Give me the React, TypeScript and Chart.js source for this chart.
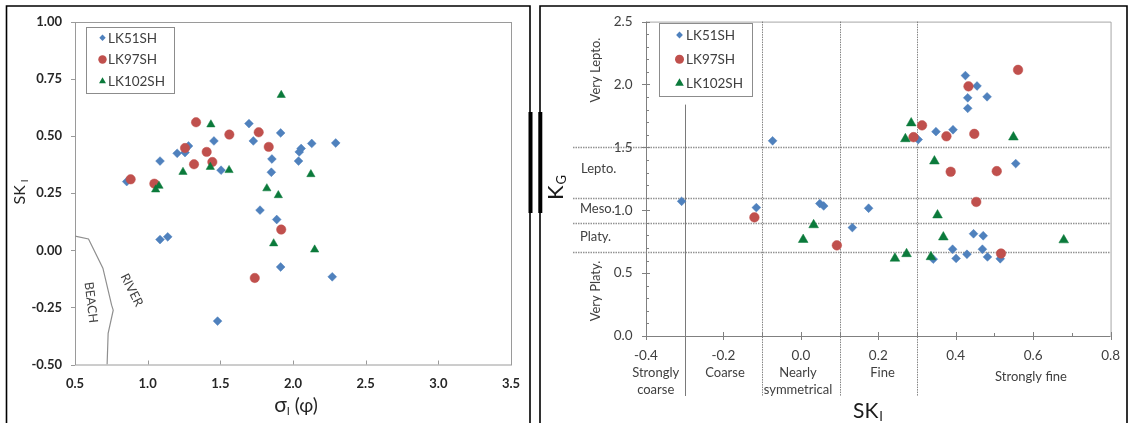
import React, { useEffect, useRef } from 'react';
import { Chart, registerables } from 'chart.js';
Chart.register(...registerables);

// ---------- Left chart: sorting (σI) vs skewness (SKI) ----------
const leftSeriesNames = ['LK51SH', 'LK97SH', 'LK102SH'];
const lk51SortX = [0.856, 1.085, 1.085, 1.138, 1.203, 1.257, 1.281, 1.456, 1.505, 1.697, 1.727, 1.915, 1.855, 1.851, 1.773, 1.888, 1.915, 2.038, 2.043, 2.056, 2.129, 2.294, 2.270, 1.481];
const lk51SkewY = [0.301, 0.391, 0.047, 0.059, 0.425, 0.428, 0.457, 0.479, 0.351, 0.555, 0.479, 0.514, 0.400, 0.342, 0.176, 0.135, -0.073, 0.391, 0.431, 0.446, 0.468, 0.470, -0.116, -0.310];
const lk97SortX = [0.883, 1.046, 1.257, 1.333, 1.319, 1.406, 1.445, 1.562, 1.764, 1.833, 1.919, 1.737];
const lk97SkewY = [0.311, 0.292, 0.448, 0.561, 0.377, 0.431, 0.387, 0.507, 0.517, 0.453, 0.091, -0.121];
const lk102SortX = [1.055, 1.078, 1.243, 1.435, 1.431, 1.560, 1.820, 1.899, 1.867, 2.123, 2.149, 1.919];
const lk102SkewY = [0.266, 0.282, 0.343, 0.551, 0.365, 0.351, 0.271, 0.241, 0.030, 0.333, 0.003, 0.680];
// Beach / river boundary curve
const boundaryX = [0.5, 0.593, 0.692, 0.752, 0.763, 0.728, 0.721];
const boundaryY = [0.062, 0.050, -0.078, -0.240, -0.262, -0.364, -0.5];
const leftXTicks = [0.5, 1.0, 1.5, 2.0, 2.5, 3.0, 3.5];
const leftYTicks = [-0.5, -0.25, 0, 0.25, 0.5, 0.75, 1.0];

// ---------- Right chart: skewness (SKI) vs kurtosis (KG) ----------
const lk51SkewX = [-0.308, -0.115, -0.073, 0.049, 0.059, 0.133, 0.175, 0.303, 0.349, 0.393, 0.425, 0.455, 0.431, 0.481, 0.431, 0.555, 0.446, 0.471, 0.392, 0.469, 0.342, 0.401, 0.429, 0.482, 0.515];
const lk51KurtY = [1.071, 1.021, 1.552, 1.053, 1.034, 0.862, 1.016, 1.562, 1.625, 1.640, 2.071, 1.988, 1.894, 1.902, 1.810, 1.371, 0.813, 0.797, 0.690, 0.690, 0.611, 0.617, 0.650, 0.629, 0.614];
const lk97SkewX = [-0.120, 0.093, 0.291, 0.313, 0.376, 0.433, 0.448, 0.561, 0.387, 0.506, 0.453, 0.517];
const lk97KurtY = [0.943, 0.721, 1.581, 1.675, 1.588, 1.985, 1.607, 2.116, 1.306, 1.311, 1.066, 0.656];
const lk102SkewX = [0.006, 0.033, 0.243, 0.273, 0.270, 0.285, 0.336, 0.345, 0.353, 0.368, 0.549, 0.679];
const lk102KurtY = [0.766, 0.883, 0.617, 0.653, 1.567, 1.693, 0.629, 1.390, 0.961, 0.786, 1.581, 0.763];
const kurtBoundaries = [1.5, 1.1, 0.9, 0.67];
const skewBoundaries = [-0.3, -0.1, 0.1, 0.3];
const kurtClassLabels = ['Very Lepto.', 'Lepto.', 'Meso.', 'Platy.', 'Very Platy.'];
const skewClassLabels = [['Strongly', 'coarse'], ['Coarse'], ['Nearly', 'symmetrical'], ['Fine'], ['Strongly fine']];

const BLUE = '#4F81BD';
const RED = '#C0504D';
const GREEN = '#0B7A3B';
const FONT = 'Lato, "Open Sans", sans-serif';

const zip = (xs: number[], ys: number[]) => xs.map((x, i) => ({ x, y: ys[i] }));

function marker(ctx: CanvasRenderingContext2D, style: string, x: number, y: number, r: number, color: string) {
  ctx.save();
  ctx.fillStyle = color;
  ctx.beginPath();
  if (style === 'rectRot') {
    ctx.moveTo(x - r, y); ctx.lineTo(x, y - r); ctx.lineTo(x + r, y); ctx.lineTo(x, y + r); ctx.closePath();
  } else if (style === 'circle') {
    ctx.arc(x, y, r, 0, Math.PI * 2);
  } else {
    ctx.moveTo(x, y - r);
    ctx.lineTo(x + r * Math.sin((2 * Math.PI) / 3), y - r * Math.cos((2 * Math.PI) / 3));
    ctx.lineTo(x + r * Math.sin((4 * Math.PI) / 3), y - r * Math.cos((4 * Math.PI) / 3));
    ctx.closePath();
  }
  ctx.fill();
  ctx.restore();
}

function legendBox(ctx: CanvasRenderingContext2D, x0: number, y0: number, x1: number, y1: number, rows: number[], mx: number, tx: number, sizes: number[]) {
  ctx.save();
  ctx.fillStyle = '#fff';
  ctx.fillRect(x0, y0, x1 - x0, y1 - y0);
  ctx.strokeStyle = '#8c8c8c';
  ctx.lineWidth = 1;
  ctx.strokeRect(x0 + 0.5, y0 + 0.5, x1 - x0, y1 - y0);
  const styles = ['rectRot', 'circle', 'triangle'];
  const colors = [BLUE, RED, GREEN];
  ctx.font = `13.5px ${FONT}`;
  ctx.textBaseline = 'middle';
  ctx.textAlign = 'left';
  rows.forEach((ry, i) => {
    marker(ctx, styles[i], mx, ry, sizes[i], colors[i]);
    ctx.fillStyle = '#404040';
    ctx.fillText(leftSeriesNames[i], tx, ry + 0.5);
  });
  ctx.restore();
}

function frame(ctx: CanvasRenderingContext2D, x0: number, x1: number, thickX: number) {
  ctx.save();
  ctx.strokeStyle = '#000';
  ctx.lineWidth = 1.6;
  ctx.beginPath();
  ctx.moveTo(x0, 430); ctx.lineTo(x0, 6); ctx.lineTo(x1, 6); ctx.lineTo(x1, 430);
  ctx.stroke();
  ctx.fillStyle = '#000';
  ctx.fillRect(thickX, 112, 4, 101);
  ctx.restore();
}

const leftDeco = {
  id: 'leftDeco',
  beforeDatasetsDraw(chart: any) {
    const { ctx, chartArea: a, scales } = chart;
    const x = scales.x, y = scales.y;
    ctx.save();
    ctx.strokeStyle = '#9a9a9a';
    ctx.lineWidth = 1;
    ctx.strokeRect(a.left + 0.5, a.top + 0.5, a.right - a.left, a.bottom - a.top);
    ctx.beginPath();
    leftXTicks.forEach((v) => {
      const px = Math.round(x.getPixelForValue(v)) + 0.5;
      ctx.moveTo(px, a.bottom); ctx.lineTo(px, a.bottom - 4);
    });
    leftYTicks.forEach((v) => {
      const py = Math.round(y.getPixelForValue(v)) + 0.5;
      ctx.moveTo(a.left - 4, py); ctx.lineTo(a.left, py);
    });
    ctx.stroke();
    ctx.restore();
  },
  afterDraw(chart: any) {
    const { ctx } = chart;
    frame(ctx, 6.5, 530, 528.5);
    legendBox(ctx, 86, 27, 174, 93, [37.7, 59.5, 81.3], 102.5, 108, [3.2, 4.2, 4]);
    ctx.save();
    ctx.fillStyle = '#404040';
    ctx.font = `12.5px ${FONT}`;
    ctx.textAlign = 'center';
    ctx.textBaseline = 'middle';
    ctx.translate(91, 302.5); ctx.rotate((83 * Math.PI) / 180); ctx.fillText('BEACH', 0, 0);
    ctx.setTransform(1, 0, 0, 1, 0, 0);
    ctx.translate(131.7, 290); ctx.rotate((63 * Math.PI) / 180); ctx.fillText('RIVER', 0, 0);
    ctx.setTransform(1, 0, 0, 1, 0, 0);
    // y title SK_I
    ctx.fillStyle = '#262626';
    ctx.translate(25, 192); ctx.rotate(-Math.PI / 2);
    ctx.textAlign = 'left'; ctx.textBaseline = 'alphabetic';
    ctx.font = `16px ${FONT}`;
    const w1 = ctx.measureText('SK').width;
    ctx.font = `10px ${FONT}`;
    const w2 = ctx.measureText('I').width;
    const sx = -(w1 + 3 + w2) / 2;
    ctx.font = `16px ${FONT}`;
    ctx.fillText('SK', sx, 0);
    ctx.font = `10px ${FONT}`;
    ctx.fillText('I', sx + w1 + 3, 3);
    ctx.setTransform(1, 0, 0, 1, 0, 0);
    // x title σ_I (φ)
    ctx.font = `21px ${FONT}`;
    const a1 = ctx.measureText('σ').width;
    ctx.font = `11px ${FONT}`;
    const a2 = ctx.measureText('I').width;
    ctx.font = `19px ${FONT}`;
    const a3 = ctx.measureText(' (φ)').width;
    let tx = 296 - (a1 + a2 + a3) / 2;
    ctx.font = `21px ${FONT}`;
    ctx.fillText('σ', tx, 412); tx += a1;
    ctx.font = `11px ${FONT}`;
    ctx.fillText('I', tx, 415); tx += a2;
    ctx.font = `19px ${FONT}`;
    ctx.fillText(' (φ)', tx, 412);
    ctx.restore();
  },
};

const rightDeco = {
  id: 'rightDeco',
  beforeDatasetsDraw(chart: any) {
    const { ctx, chartArea: a, scales } = chart;
    const x = scales.x, y = scales.y;
    ctx.save();
    ctx.strokeStyle = '#a6a6a6';
    ctx.lineWidth = 1;
    ctx.beginPath();
    ctx.moveTo(a.left, a.top + 0.5); ctx.lineTo(a.right + 0.5, a.top + 0.5); ctx.lineTo(a.right + 0.5, a.bottom);
    ctx.stroke();
    // class boundaries
    ctx.strokeStyle = 'rgba(110,110,110,0.75)';
    ctx.lineWidth = 1.5;
    ctx.setLineDash([1.5, 1]);
    kurtBoundaries.forEach((v) => {
      const py = Math.round(y.getPixelForValue(v)) + 0.5;
      ctx.beginPath(); ctx.moveTo(37, py); ctx.lineTo(a.right, py); ctx.stroke();
    });
    ctx.lineWidth = 1;
    skewBoundaries.forEach((v, i) => {
      const px = Math.round(x.getPixelForValue(v)) + 0.5;
      ctx.beginPath();
      if (i === 0) {
        ctx.setLineDash([]);
        ctx.strokeStyle = '#7a7a7a';
        ctx.moveTo(px, y.getPixelForValue(1.84));
      } else {
        ctx.setLineDash([1.5, 1]);
        ctx.strokeStyle = 'rgba(110,110,110,0.85)';
        ctx.moveTo(px, a.top);
      }
      ctx.lineTo(px, 396);
      ctx.stroke();
    });
    ctx.setLineDash([]);
    // axes
    ctx.strokeStyle = '#808080';
    ctx.lineWidth = 1;
    ctx.beginPath();
    ctx.moveTo(a.left + 0.5, a.top); ctx.lineTo(a.left + 0.5, a.bottom + 0.5); ctx.lineTo(a.right, a.bottom + 0.5);
    for (let k = 0; k <= 25; k++) {
      const v = k / 10;
      const py = Math.round(y.getPixelForValue(v)) + 0.5;
      if (k % 5 === 0) { ctx.moveTo(a.left - 4, py); ctx.lineTo(a.left + 4, py); }
      else { ctx.moveTo(a.left, py); ctx.lineTo(a.left + 3, py); }
    }
    for (let k = -4; k <= 8; k++) {
      const v = k / 10;
      const px = Math.round(x.getPixelForValue(v)) + 0.5;
      if (k % 2 === 0) { ctx.moveTo(px, a.bottom - 4); ctx.lineTo(px, a.bottom + 4); }
      else { ctx.moveTo(px, a.bottom); ctx.lineTo(px, a.bottom - 3); }
    }
    ctx.stroke();
    ctx.restore();
  },
  afterDraw(chart: any) {
    const { ctx } = chart;
    frame(ctx, 4, 591, 2.3);
    legendBox(ctx, 123, 23, 216, 96, [35, 59.3, 83.3], 143.5, 150, [3.4, 4.5, 5]);
    ctx.save();
    ctx.fillStyle = '#404040';
    ctx.font = `13px ${FONT}`;
    ctx.textBaseline = 'middle';
    // kurtosis classes
    ctx.textAlign = 'center';
    ctx.translate(60, 70); ctx.rotate(-Math.PI / 2); ctx.fillText(kurtClassLabels[0], 0, 0);
    ctx.setTransform(1, 0, 0, 1, 0, 0);
    ctx.translate(60, 291); ctx.rotate(-Math.PI / 2); ctx.fillText(kurtClassLabels[4], 0, 0);
    ctx.setTransform(1, 0, 0, 1, 0, 0);
    ctx.textAlign = 'left';
    ctx.fillText(kurtClassLabels[1], 45, 169);
    ctx.fillText(kurtClassLabels[2], 44, 208.5);
    ctx.fillText(kurtClassLabels[3], 44, 237);
    // skewness classes
    ctx.textAlign = 'center';
    const cx = [119.7, 189, 262, 346.5, 495];
    skewClassLabels.forEach((lines, i) => {
      if (lines.length === 1) {
        ctx.fillText(lines[0], cx[i], i === 4 ? 377 : 373);
      } else {
        ctx.fillText(lines[0], cx[i], 373);
        ctx.fillText(lines[1], cx[i], 390);
      }
    });
    // y title K_G
    ctx.fillStyle = '#1a1a1a';
    ctx.textAlign = 'left';
    ctx.textBaseline = 'alphabetic';
    ctx.translate(27, 188); ctx.rotate(-Math.PI / 2);
    ctx.font = `22px ${FONT}`;
    const kw = ctx.measureText('K').width;
    ctx.font = `13px ${FONT}`;
    const gw = ctx.measureText('G').width;
    const s0 = -(kw + gw) / 2;
    ctx.font = `22px ${FONT}`;
    ctx.fillText('K', s0, 0);
    ctx.font = `13px ${FONT}`;
    ctx.fillText('G', s0 + kw + 1, 3);
    ctx.setTransform(1, 0, 0, 1, 0, 0);
    // x title SK_I
    ctx.font = `21px ${FONT}`;
    const sw = ctx.measureText('SK').width;
    ctx.font = `13px ${FONT}`;
    const iw = ctx.measureText('I').width;
    const x0 = 332 - (sw + iw + 1) / 2;
    ctx.font = `21px ${FONT}`;
    ctx.fillText('SK', x0, 418);
    ctx.font = `13px ${FONT}`;
    ctx.fillText('I', x0 + sw + 1, 421);
    ctx.restore();
  },
};

function leftConfig(): any {
  return {
    type: 'scatter',
    data: {
      datasets: [
        { label: 'boundary', data: zip(boundaryX, boundaryY), showLine: true, pointRadius: 0, borderColor: '#8f8f8f', borderWidth: 1.2, tension: 0, order: 4 },
        { label: leftSeriesNames[0], data: zip(lk51SortX, lk51SkewY), pointStyle: 'rectRot', pointRadius: 4.4, backgroundColor: BLUE, borderColor: BLUE, borderWidth: 0.5, order: 3 },
        { label: leftSeriesNames[1], data: zip(lk97SortX, lk97SkewY), pointStyle: 'circle', pointRadius: 4.7, backgroundColor: RED, borderColor: RED, borderWidth: 0.5, order: 2 },
        { label: leftSeriesNames[2], data: zip(lk102SortX, lk102SkewY), pointStyle: 'triangle', pointRadius: 4.8, backgroundColor: GREEN, borderColor: GREEN, borderWidth: 0.5, order: 1 },
      ],
    },
    options: {
      responsive: false,
      animation: false,
      devicePixelRatio: 1,
      layout: { padding: { left: 0, top: 22, right: 25, bottom: 0 } },
      plugins: { legend: { display: false }, tooltip: { enabled: false } },
      scales: {
        x: {
          type: 'linear', min: 0.5, max: 3.5,
          afterBuildTicks: (s: any) => { s.ticks = leftXTicks.map((v) => ({ value: v })); },
          afterFit: (s: any) => { s.height = 58.5; },
          grid: { display: false, drawTicks: false },
          border: { display: false },
          ticks: { padding: 12, color: '#262626', font: { family: FONT, size: 13, weight: 'bold' }, callback: (v: number) => v.toFixed(1), maxRotation: 0 },
        },
        y: {
          type: 'linear', min: -0.5, max: 1.0,
          afterBuildTicks: (s: any) => { s.ticks = leftYTicks.map((v) => ({ value: v })); },
          afterFit: (s: any) => { s.width = 75; },
          grid: { display: false, drawTicks: false },
          border: { display: false },
          ticks: { padding: 13, color: '#262626', font: { family: FONT, size: 13, weight: 'bold' }, callback: (v: number) => v.toFixed(2) },
        },
      },
    },
    plugins: [leftDeco],
  };
}

function rightConfig(): any {
  const xt = [-0.4, -0.2, 0, 0.2, 0.4, 0.6, 0.8];
  const yt = [0, 0.5, 1.0, 1.5, 2.0, 2.5];
  return {
    type: 'scatter',
    data: {
      datasets: [
        { label: leftSeriesNames[0], data: zip(lk51SkewX, lk51KurtY), pointStyle: 'rectRot', pointRadius: 4.4, backgroundColor: BLUE, borderColor: BLUE, borderWidth: 0.5, order: 3 },
        { label: leftSeriesNames[1], data: zip(lk97SkewX, lk97KurtY), pointStyle: 'circle', pointRadius: 4.8, backgroundColor: RED, borderColor: RED, borderWidth: 0.5, order: 2 },
        { label: leftSeriesNames[2], data: zip(lk102SkewX, lk102KurtY), pointStyle: 'triangle', pointRadius: 5.6, backgroundColor: GREEN, borderColor: GREEN, borderWidth: 0.5, order: 1 },
      ],
    },
    options: {
      responsive: false,
      animation: false,
      devicePixelRatio: 1,
      layout: { padding: { left: 0, top: 17.3, right: 15, bottom: 0 } },
      plugins: { legend: { display: false }, tooltip: { enabled: false } },
      scales: {
        x: {
          type: 'linear', min: -0.4, max: 0.8,
          afterBuildTicks: (s: any) => { s.ticks = xt.map((v) => ({ value: v })); },
          afterFit: (s: any) => { s.height = 87; },
          grid: { display: false, drawTicks: false },
          border: { display: false },
          ticks: { padding: 12, color: '#404040', font: { family: FONT, size: 13.5 }, callback: (v: number) => v.toFixed(1), maxRotation: 0 },
        },
        y: {
          type: 'linear', min: 0, max: 2.5,
          afterBuildTicks: (s: any) => { s.ticks = yt.map((v) => ({ value: v })); },
          afterFit: (s: any) => { s.width = 110; },
          grid: { display: false, drawTicks: false },
          border: { display: false },
          ticks: { padding: 13.5, color: '#404040', font: { family: FONT, size: 13.5 }, callback: (v: number) => v.toFixed(1) },
        },
      },
    },
    plugins: [rightDeco],
  };
}

export default function App() {
  const leftRef = useRef<HTMLCanvasElement>(null);
  const rightRef = useRef<HTMLCanvasElement>(null);
  useEffect(() => {
    const c1 = new Chart(leftRef.current as HTMLCanvasElement, leftConfig());
    const c2 = new Chart(rightRef.current as HTMLCanvasElement, rightConfig());
    return () => { c1.destroy(); c2.destroy(); };
  }, []);
  return (
    <div style={{ position: 'fixed', left: 0, top: 0, width: 1132, height: 423, background: '#fff', overflow: 'hidden' }}>
      <canvas ref={leftRef} width={536} height={423} style={{ position: 'absolute', left: 0, top: 0, width: 536, height: 423 }} />
      <canvas ref={rightRef} width={596} height={423} style={{ position: 'absolute', left: 536, top: 0, width: 596, height: 423 }} />
    </div>
  );
}
